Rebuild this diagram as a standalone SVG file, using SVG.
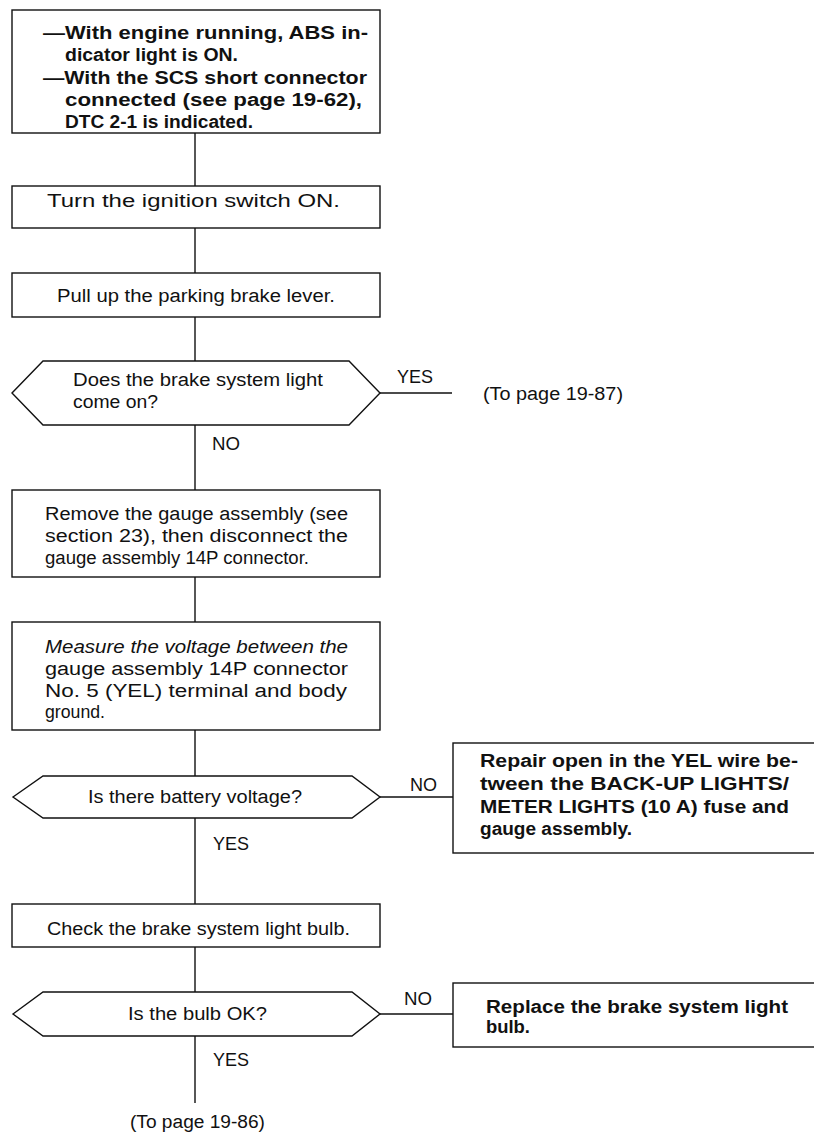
<svg xmlns="http://www.w3.org/2000/svg" width="814" height="1133" viewBox="0 0 814 1133">
<style>
.box{fill:#fff;stroke:#111;stroke-width:1.4}
.ln{fill:none;stroke:#111;stroke-width:1.4}
text{font-family:"Liberation Sans",Arial,Helvetica,sans-serif;font-size:18px;fill:#111}
.b{font-weight:bold}
.i{font-style:italic}
</style>
<rect width="814" height="1133" fill="#fff"/>
<g id="connectors">
<path class="ln" d="M195,133 V186 M195,228 V273 M195,317 V361 M195,425 V490 M195,577 V622 M195,730 V776 M195,818 V904 M195,947 V992 M195,1036 V1103"/>
<path class="ln" d="M380,393 H452 M380,797 H453 M380,1014 H453"/>
<text x="397" y="383" textLength="36" lengthAdjust="spacingAndGlyphs">YES</text>
<text x="483" y="400" textLength="140" lengthAdjust="spacingAndGlyphs">(To page 19-87)</text>
<text x="212" y="450" textLength="28" lengthAdjust="spacingAndGlyphs">NO</text>
<text x="410" y="791" textLength="27" lengthAdjust="spacingAndGlyphs">NO</text>
<text x="213" y="850" textLength="36" lengthAdjust="spacingAndGlyphs">YES</text>
<text x="404" y="1005" textLength="28" lengthAdjust="spacingAndGlyphs">NO</text>
<text x="213" y="1066" textLength="36" lengthAdjust="spacingAndGlyphs">YES</text>
<text x="130" y="1128" textLength="135" lengthAdjust="spacingAndGlyphs">(To page 19-86)</text>
</g>
<g id="start">
<rect class="box" x="12" y="10" width="368" height="123"/>
<text class="b" x="43" y="39" textLength="325" lengthAdjust="spacingAndGlyphs">—With engine running, ABS in-</text>
<text class="b" x="65" y="61" textLength="173" lengthAdjust="spacingAndGlyphs">dicator light is ON.</text>
<text class="b" x="43" y="84" textLength="324" lengthAdjust="spacingAndGlyphs">—With the SCS short connector</text>
<text class="b" x="65" y="106" textLength="297" lengthAdjust="spacingAndGlyphs">connected (see page 19-62),</text>
<text class="b" x="65" y="128" textLength="188" lengthAdjust="spacingAndGlyphs">DTC 2-1 is indicated.</text>
</g>
<g id="ignition">
<rect class="box" x="12" y="186" width="368" height="42"/>
<text x="47" y="207" textLength="293" lengthAdjust="spacingAndGlyphs">Turn the ignition switch ON.</text>
</g>
<g id="parking">
<rect class="box" x="12" y="273" width="368" height="44"/>
<text x="57" y="302" textLength="278" lengthAdjust="spacingAndGlyphs">Pull up the parking brake lever.</text>
</g>
<g id="q-light">
<polygon class="box" points="12,393 43,361 349,361 380,393 349,425 43,425"/>
<text x="73" y="386" textLength="250" lengthAdjust="spacingAndGlyphs">Does the brake system light</text>
<text x="73" y="408" textLength="85" lengthAdjust="spacingAndGlyphs">come on?</text>
</g>
<g id="remove">
<rect class="box" x="12" y="490" width="368" height="87"/>
<text x="45" y="520" textLength="303" lengthAdjust="spacingAndGlyphs">Remove the gauge assembly (see</text>
<text x="45" y="542" textLength="303" lengthAdjust="spacingAndGlyphs">section 23), then disconnect the</text>
<text x="45" y="564" textLength="264" lengthAdjust="spacingAndGlyphs">gauge assembly 14P connector.</text>
</g>
<g id="measure">
<rect class="box" x="12" y="622" width="368" height="108"/>
<text class="i" x="45" y="653" textLength="303" lengthAdjust="spacingAndGlyphs">Measure the voltage between the</text>
<text x="45" y="675" textLength="303" lengthAdjust="spacingAndGlyphs">gauge assembly 14P connector</text>
<text x="45" y="697" textLength="302" lengthAdjust="spacingAndGlyphs">No. 5 (YEL) terminal and body</text>
<text x="45" y="718" textLength="60" lengthAdjust="spacingAndGlyphs">ground.</text>
</g>
<g id="q-voltage">
<polygon class="box" points="13,797 43,776 352,776 380,797 352,818 43,818"/>
<text x="88" y="803" textLength="214" lengthAdjust="spacingAndGlyphs">Is there battery voltage?</text>
</g>
<g id="repair">
<rect class="box" x="453" y="743" width="400" height="110"/>
<text class="b" x="480" y="767" textLength="318" lengthAdjust="spacingAndGlyphs">Repair open in the YEL wire be-</text>
<text class="b" x="480" y="790" textLength="309" lengthAdjust="spacingAndGlyphs">tween the BACK-UP LIGHTS/</text>
<text class="b" x="480" y="813" textLength="309" lengthAdjust="spacingAndGlyphs">METER LIGHTS (10 A) fuse and</text>
<text class="b" x="480" y="835" textLength="152" lengthAdjust="spacingAndGlyphs">gauge assembly.</text>
</g>
<g id="check">
<rect class="box" x="12" y="904" width="368" height="43"/>
<text x="47" y="935" textLength="303" lengthAdjust="spacingAndGlyphs">Check the brake system light bulb.</text>
</g>
<g id="q-bulb">
<polygon class="box" points="13,1014 43,992 352,992 380,1014 352,1036 43,1036"/>
<text x="128" y="1020" textLength="139" lengthAdjust="spacingAndGlyphs">Is the bulb OK?</text>
</g>
<g id="replace">
<rect class="box" x="453" y="983" width="400" height="64"/>
<text class="b" x="486" y="1013" textLength="302" lengthAdjust="spacingAndGlyphs">Replace the brake system light</text>
<text class="b" x="486" y="1033" textLength="44" lengthAdjust="spacingAndGlyphs">bulb.</text>
</g>
</svg>
